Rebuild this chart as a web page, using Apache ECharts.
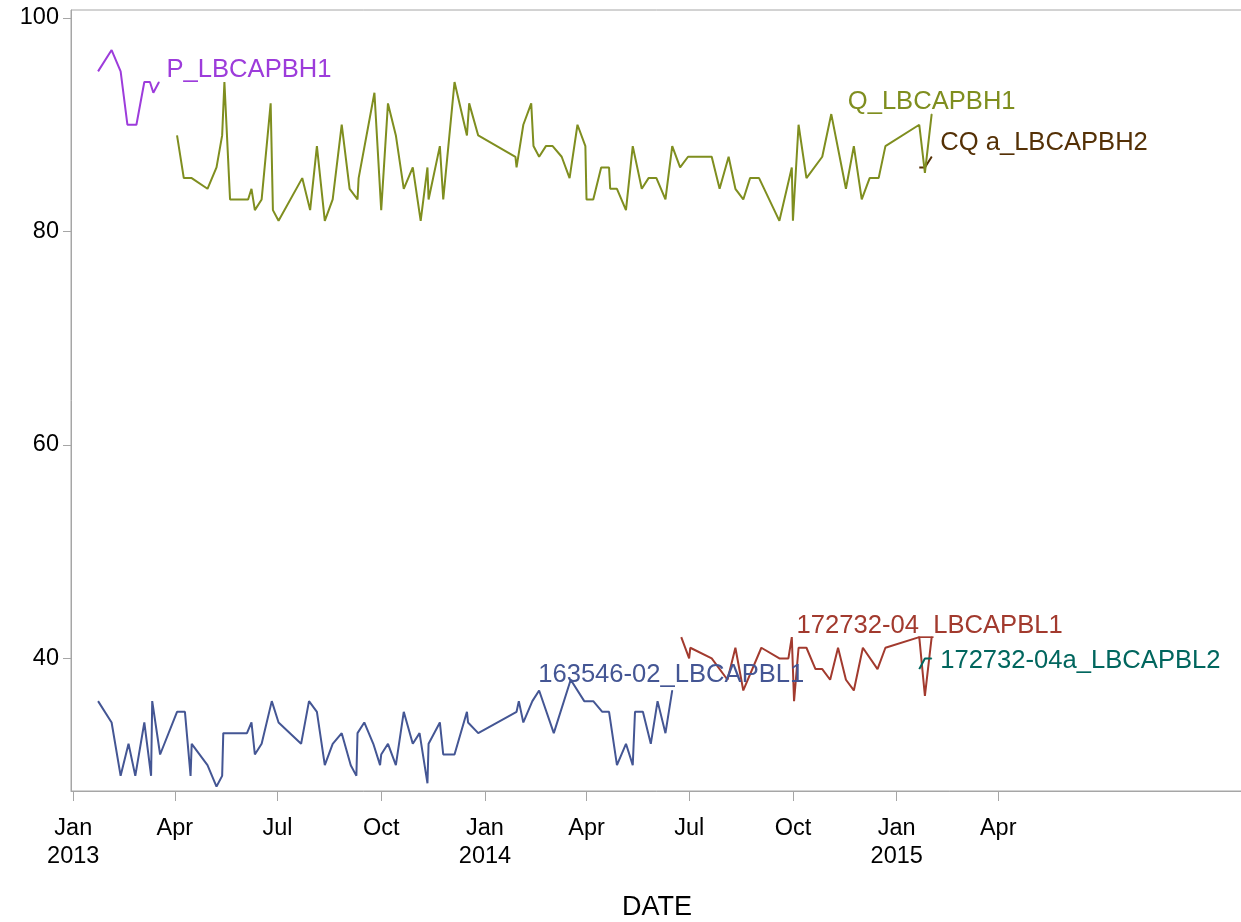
<!DOCTYPE html>
<html>
<head>
<meta charset="utf-8">
<script src="https://cdn.jsdelivr.net/npm/echarts@6/dist/echarts.min.js"></script>
<style>
    html, body { margin: 0; padding: 0; background: #fff; }
    #chart { width: 1241px; height: 922px; }
</style>
</head>
<body>
<div id="chart"></div>
<script>
// P_LBCAPBH1
const pDates = ['2013-01-23','2013-02-04','2013-02-12','2013-02-18','2013-02-26','2013-03-05','2013-03-10','2013-03-13','2013-03-18'];
const pValues = [95, 97, 95, 90, 90, 94, 94, 93, 94];

// Q_LBCAPBH1
const qDates = [
    '2013-04-03','2013-04-09','2013-04-16','2013-04-30','2013-05-08','2013-05-13','2013-05-15','2013-05-20',
    '2013-06-05','2013-06-08','2013-06-11','2013-06-17','2013-06-25','2013-06-27','2013-07-02','2013-07-23',
    '2013-07-30','2013-08-05','2013-08-12','2013-08-19','2013-08-27','2013-09-03','2013-09-10','2013-09-11',
    '2013-09-25','2013-10-01','2013-10-07','2013-10-14','2013-10-21','2013-10-29','2013-11-05','2013-11-11',
    '2013-11-12','2013-11-22','2013-11-25','2013-12-05','2013-12-16','2013-12-18','2013-12-26','2014-01-28',
    '2014-01-29','2014-02-04','2014-02-11','2014-02-13','2014-02-18','2014-02-24','2014-03-02','2014-03-10',
    '2014-03-17','2014-03-24','2014-03-31','2014-04-01','2014-04-07','2014-04-14','2014-04-21','2014-04-22',
    '2014-04-28','2014-05-06','2014-05-12','2014-05-13','2014-05-20','2014-05-26','2014-06-02','2014-06-10',
    '2014-06-16','2014-06-23','2014-06-30','2014-07-21','2014-07-28','2014-08-05','2014-08-11','2014-08-18',
    '2014-08-24','2014-09-01','2014-09-19','2014-09-30','2014-10-01','2014-10-06','2014-10-13','2014-10-27',
    '2014-11-04','2014-11-17','2014-11-24','2014-12-01','2014-12-08','2014-12-16','2014-12-22','2015-01-21',
    '2015-01-26','2015-02-01'
];
const qValues = [
    89, 85, 85, 84, 86, 89, 94, 83,
    83, 84, 82, 83, 92, 82, 81, 85,
    82, 88, 81, 83, 90, 84, 83, 85,
    93, 82, 92, 89, 84, 86, 81, 86,
    83, 88, 83, 94, 89, 92, 89, 87,
    86, 90, 92, 88, 87, 88, 88, 87,
    85, 90, 88, 83, 83, 86, 86, 84,
    84, 82, 88, 88, 84, 85, 85, 83,
    88, 86, 87, 87, 84, 87, 84, 83,
    85, 85, 81, 86, 81, 90, 85, 87,
    91, 84, 88, 83, 85, 85, 88, 90,
    85.5, 91
];

// CQ a_LBCAPBH2
const cqDates = ['2015-01-21','2015-01-26','2015-02-01'];
const cqValues = [86, 86, 87];

// 163546-02_LBCAPBL1
const blDates = [
    '2013-01-23','2013-02-04','2013-02-12','2013-02-19','2013-02-25','2013-03-05','2013-03-11','2013-03-12',
    '2013-03-19','2013-04-03','2013-04-10','2013-04-15','2013-04-16','2013-04-30','2013-05-08','2013-05-13',
    '2013-05-14','2013-06-04','2013-06-08','2013-06-11','2013-06-17','2013-06-26','2013-07-02','2013-07-22',
    '2013-07-29','2013-08-05','2013-08-12','2013-08-19','2013-08-27','2013-09-04','2013-09-09','2013-09-10',
    '2013-09-16','2013-09-24','2013-09-30','2013-10-01','2013-10-07','2013-10-14','2013-10-21','2013-10-29',
    '2013-11-04','2013-11-11','2013-11-12','2013-11-22','2013-11-25','2013-12-05','2013-12-16','2013-12-17',
    '2013-12-26','2014-01-29','2014-01-31','2014-02-04','2014-02-12','2014-02-18','2014-03-03','2014-03-18',
    '2014-03-30','2014-04-07','2014-04-15','2014-04-21','2014-04-28','2014-05-06','2014-05-12','2014-05-14',
    '2014-05-21','2014-05-28','2014-06-03','2014-06-10','2014-06-16'
];
const blValues = [
    36, 34, 29, 32, 29, 34, 29, 36,
    31, 35, 35, 29, 32, 30, 28, 29,
    33, 33, 34, 31, 32, 36, 34, 32,
    36, 35, 30, 32, 33, 30, 29, 33,
    34, 32, 30, 31, 32, 30, 35, 32,
    33, 28.3, 32, 34, 31, 31, 35, 34,
    33, 35, 36, 34, 36, 37, 33, 38,
    36, 36, 35, 35, 30, 32, 30, 35,
    35, 32, 36, 33, 37
];

// 172732-04_LBCAPBL1
const rdDates = [
    '2014-06-24','2014-07-01','2014-07-02','2014-07-21','2014-08-04','2014-08-11','2014-08-18','2014-09-03',
    '2014-09-19','2014-09-27','2014-09-30','2014-10-02','2014-10-06','2014-10-13','2014-10-21','2014-10-27',
    '2014-11-03','2014-11-10','2014-11-17','2014-11-24','2014-12-02','2014-12-15','2014-12-22','2015-01-21',
    '2015-01-26','2015-02-01'
];
const rdValues = [
    42, 40, 41, 40, 38, 41, 37, 41,
    40, 40, 42, 36, 41, 41, 39, 39,
    38, 41, 38, 37, 41, 39, 41, 42,
    36.5, 42
];

// 172732-04a_LBCAPBL2
const tlDates = ['2015-01-21','2015-01-26','2015-02-01'];
const tlValues = [39, 40, 40];

// x axis ticks
const tickDates = ['2013-01-01','2013-04-01','2013-07-01','2013-10-01','2014-01-01','2014-04-01','2014-07-01','2014-10-01','2015-01-01','2015-04-01'];
const tickLabels = ['Jan\n2013','Apr','Jul','Oct','Jan\n2014','Apr','Jul','Oct','Jan\n2015','Apr'];
const yTicks = [40, 60, 80, 100];

const FONT = '"Liberation Sans", Arial, sans-serif';
const AXIS_GREY = '#a6a6a6';

// dates as day numbers (days since 1970-01-01, UTC)
function toDay(s) {
    const p = s.split('-').map(Number);
    return Date.UTC(p[0], p[1] - 1, p[2]) / 86400000;
}

const tickDays = tickDates.map(toDay);
const labelByDay = {};
tickDays.forEach((t, i) => { labelByDay[t] = tickLabels[i]; });

// Line with its name written at the last point
function makeSeries(name, dates, values, color, pos, offset) {
    const data = dates.map((d, i) => [toDay(d), values[i]]);
    const last = data.length - 1;
    data[last] = {
        value: data[last],
        symbol: 'circle',
        symbolSize: 1,
        label: {
            show: true,
            position: pos,
            distance: 0,
            offset: offset,
            formatter: name,
            color: color,
            fontSize: 25.6,
            fontFamily: FONT
        }
    };
    return {
        name: name,
        type: 'line',
        data: data,
        showSymbol: true,
        symbol: 'none',
        lineStyle: { color: color, width: 2 },
        itemStyle: { color: color },
        emphasis: { disabled: true }
    };
}

const chart = echarts.init(document.getElementById('chart'));
chart.setOption({
    animation: false,
    backgroundColor: '#fff',
    grid: {
        left: 71, right: -2, top: 10, bottom: 131,
        show: true, borderColor: AXIS_GREY, borderWidth: 1,
        outerBoundsMode: 'none'
    },
    xAxis: {
        type: 'value',
        min: toDay('2012-12-30'),
        max: toDay('2015-11-04'),
        axisLine: { show: true, lineStyle: { color: AXIS_GREY, width: 1 } },
        axisTick: { show: true, length: 10, customValues: tickDays, lineStyle: { color: AXIS_GREY } },
        axisLabel: {
            customValues: tickDays,
            formatter: v => labelByDay[Math.round(v)] || '',
            fontSize: 23.5, lineHeight: 28, color: '#000', fontFamily: FONT, margin: 24
        },
        splitLine: { show: false },
        name: 'DATE',
        nameLocation: 'middle',
        nameGap: 103,
        nameTextStyle: { fontSize: 27, color: '#000', fontFamily: FONT }
    },
    yAxis: {
        type: 'value',
        min: 27.58,
        max: 100.75,
        axisLine: { show: true, lineStyle: { color: AXIS_GREY, width: 1 } },
        axisTick: { show: true, length: 8, customValues: yTicks, lineStyle: { color: AXIS_GREY } },
        axisLabel: {
            customValues: yTicks,
            fontSize: 23.5, color: '#000', fontFamily: FONT, margin: 12
        },
        splitLine: { show: false }
    },
    series: [
        makeSeries('163546-02_LBCAPBL1', blDates, blValues, '#445694', 'top', [-1, -2]),
        makeSeries('172732-04_LBCAPBL1', rdDates, rdValues, '#A23A2E', 'top', [-2, 2]),
        makeSeries('172732-04a_LBCAPBL2', tlDates, tlValues, '#01665E', 'right', [8, 3]),
        makeSeries('CQ a_LBCAPBH2', cqDates, cqValues, '#543005', 'right', [8, -14]),
        makeSeries('P_LBCAPBH1', pDates, pValues, '#9D3CDB', 'right', [7, -12]),
        makeSeries('Q_LBCAPBH1', qDates, qValues, '#7F8E1F', 'top', [0, 1])
    ]
});
</script>
</body>
</html>
